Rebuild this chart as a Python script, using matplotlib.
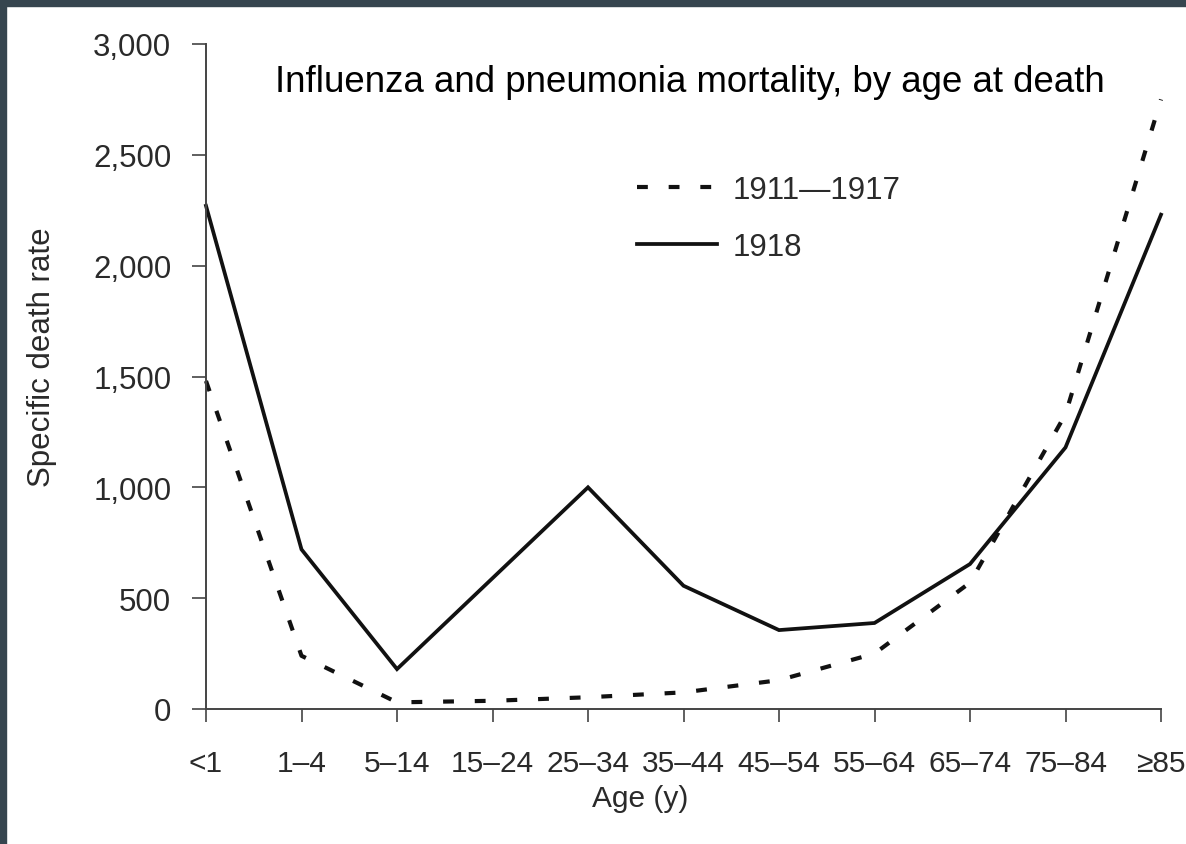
import numpy as np
import matplotlib
matplotlib.use('Agg')
import matplotlib.pyplot as plt
from matplotlib.ticker import StrMethodFormatter
from matplotlib.patches import Rectangle

plt.rcParams['font.family'] = ['Liberation Sans', 'DejaVu Sans']

# data
age_groups = ['<1', '1–4', '5–14', '15–24', '25–34', '35–44',
              '45–54', '55–64', '65–74', '75–84', '≥85']
rate_1911_1917 = [1480, 240, 30, 37, 53, 75, 130, 250, 570, 1330, 2750]
rate_1918 = [2270, 720, 180, 590, 1000, 556, 356, 388, 654, 1180, 2230]

W, H = 1186, 845
fig = plt.figure(figsize=(W / 100, H / 100), dpi=100)
fig.patch.set_facecolor('white')

# dark frame on top and left edge
fig.patches.append(Rectangle((0, 1 - 7 / H), 1, 7 / H, transform=fig.transFigure,
                             color='#36454f', zorder=0))
fig.patches.append(Rectangle((0, 0), 6 / W, 1, transform=fig.transFigure,
                             color='#36454f', zorder=0))

ax = fig.add_axes([206 / W, 1 - 710 / H, (1161 - 206) / W, (710 - 45) / H])
x = np.arange(len(age_groups))

ax.plot(x, rate_1911_1917, color='#111111', lw=3.0, ls=(0, (2.6, 5.0)),
        label='1911—1917', clip_on=False)
ax.plot(x, rate_1918, color='#111111', lw=2.7, label='1918',
        solid_joinstyle='miter', clip_on=False)

ax.set_xlim(0, 10)
ax.set_ylim(0, 3000)
ax.set_xticks(x)
ax.set_xticklabels(age_groups)
ax.set_yticks([0, 500, 1000, 1500, 2000, 2500, 3000])
ax.yaxis.set_major_formatter(StrMethodFormatter('{x:,.0f}'))

for s in ['top', 'right']:
    ax.spines[s].set_visible(False)
for s in ['left', 'bottom']:
    ax.spines[s].set_color('#444444')
    ax.spines[s].set_linewidth(1.4)

fs = 22.5
ax.tick_params(axis='y', direction='out', length=10, width=1.2, color='#444444',
               labelsize=fs, labelcolor='#2a2a2a', pad=15)
ax.tick_params(axis='x', direction='out', length=9, width=1.2, color='#444444',
               labelsize=21.5, labelcolor='#2a2a2a', pad=20)

fig.text(42 / W, 1 - 357 / H, 'Specific death rate', rotation=90, ha='center',
         va='center', fontsize=fs, color='#2a2a2a')
fig.text(640 / W, 1 - 799 / H, 'Age (y)', ha='center', va='center',
         fontsize=21.5, color='#2a2a2a')
fig.text(690 / W, 1 - 82 / H, 'Influenza and pneumonia mortality, by age at death',
         ha='center', va='center', fontsize=26.4, color='black')

ax.legend(loc='upper left', bbox_to_anchor=(637 / W, 1 - 176 / H),
          bbox_transform=fig.transFigure, frameon=False, fontsize=fs,
          handlelength=2.55, handletextpad=0.5, labelspacing=0.86,
          borderpad=0, borderaxespad=0, labelcolor='#2a2a2a')

fig.savefig('out.png', dpi=100)
